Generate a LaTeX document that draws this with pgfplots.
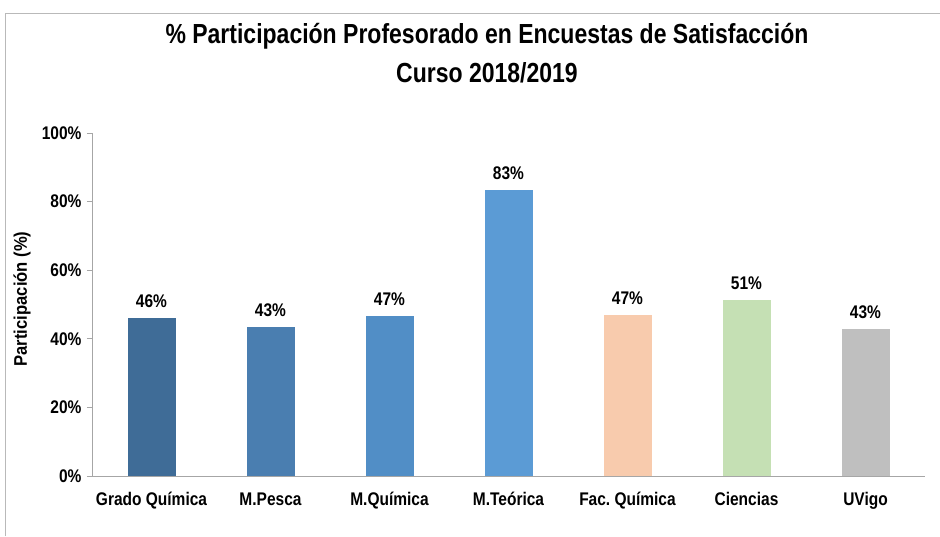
\documentclass[border=0pt]{standalone}
\usepackage{fontspec}
\setmainfont{Liberation Sans}
\usepackage{graphicx}
\usepackage{pgfplots}
\pgfplotsset{compat=1.18}
\definecolor{c1}{HTML}{3F6C97}
\definecolor{c2}{HTML}{4A7EB0}
\definecolor{c3}{HTML}{518EC6}
\definecolor{c4}{HTML}{5B9BD5}
\definecolor{c5}{HTML}{F8CBAD}
\definecolor{c6}{HTML}{C5E0B4}
\definecolor{c7}{HTML}{BFBFBF}
\definecolor{axgray}{HTML}{A6A6A6}
\newcommand{\vs}[1]{\scalebox{1}[1.18]{\bfseries #1}}
\begin{document}
\begin{tikzpicture}
\useasboundingbox (0,0) rectangle (940pt,536pt);
\fill[white] (0,0) rectangle (940pt,536pt);
\draw[gray!55, line width=1pt] (5pt,0) -- (5pt,522pt) -- (940pt,522pt);
\node[anchor=base, font=\fontsize{23}{27}\selectfont] at (487pt,492pt) {\scalebox{1}[1.2]{\bfseries \% Participación Profesorado en Encuestas de Satisfacción}};
\node[anchor=base, font=\fontsize{23}{27}\selectfont] at (487pt,453pt) {\scalebox{1}[1.2]{\bfseries Curso 2018/2019}};
\node[rotate=90, font=\fontsize{16.6}{19}\selectfont] at (22pt,237pt) {\scalebox{1}[1.1]{\bfseries Participación (\%)}};
\begin{axis}[
  at={(92pt,60pt)}, anchor=south west,
  scale only axis, width=833pt, height=343pt,
  xmin=-0.5, xmax=6.5, ymin=0, ymax=100,
  axis lines=left,
  axis line style={axgray, line width=0.8pt, -},
  /pgf/number format/assume math mode=true,
  xtick={0,...,6},
  xticklabels={\vs{Grado Química},\vs{M.Pesca},\vs{M.Química},\vs{M.Teórica},\vs{Fac.\ Química},\vs{Ciencias},\vs{UVigo}},
  major x tick style={draw=none},
  extra x ticks={-0.5,0.5,1.5,2.5,3.5,4.5,5.5,6.5},
  extra x tick labels={},
  extra x tick style={tick style={axgray, line width=0.8pt}, major tick length=6pt, tick align=outside},
  ytick={0,20,40,60,80,100},
  yticklabel={\vs{\pgfmathprintnumber{\tick}\%}},
  ytick style={axgray, line width=0.8pt},
  tick align=outside, major tick length=5pt,
  ticklabel style={font=\fontsize{15.5}{18}\selectfont, text=black},
  xticklabel style={yshift=-8pt},
  yticklabel style={xshift=-2pt},
  ybar, bar width=48pt, bar shift=0pt,
  point meta=y,
  nodes near coords={\vs{\pgfmathprintnumber[fixed,precision=0]{\pgfplotspointmeta}\%}},
  nodes near coords style={font=\fontsize{15.5}{18}\selectfont, text=black, anchor=south, yshift=7pt},
  clip=false,
]
\addplot[fill=c1, draw=none] coordinates {(0,46.0)};
\addplot[fill=c2, draw=none] coordinates {(1,43.4)};
\addplot[fill=c3, draw=none] coordinates {(2,46.7)};
\addplot[fill=c4, draw=none] coordinates {(3,83.4)};
\addplot[fill=c5, draw=none] coordinates {(4,46.9)};
\addplot[fill=c6, draw=none] coordinates {(5,51.3)};
\addplot[fill=c7, draw=none] coordinates {(6,42.9)};
\end{axis}
\end{tikzpicture}
\end{document}
